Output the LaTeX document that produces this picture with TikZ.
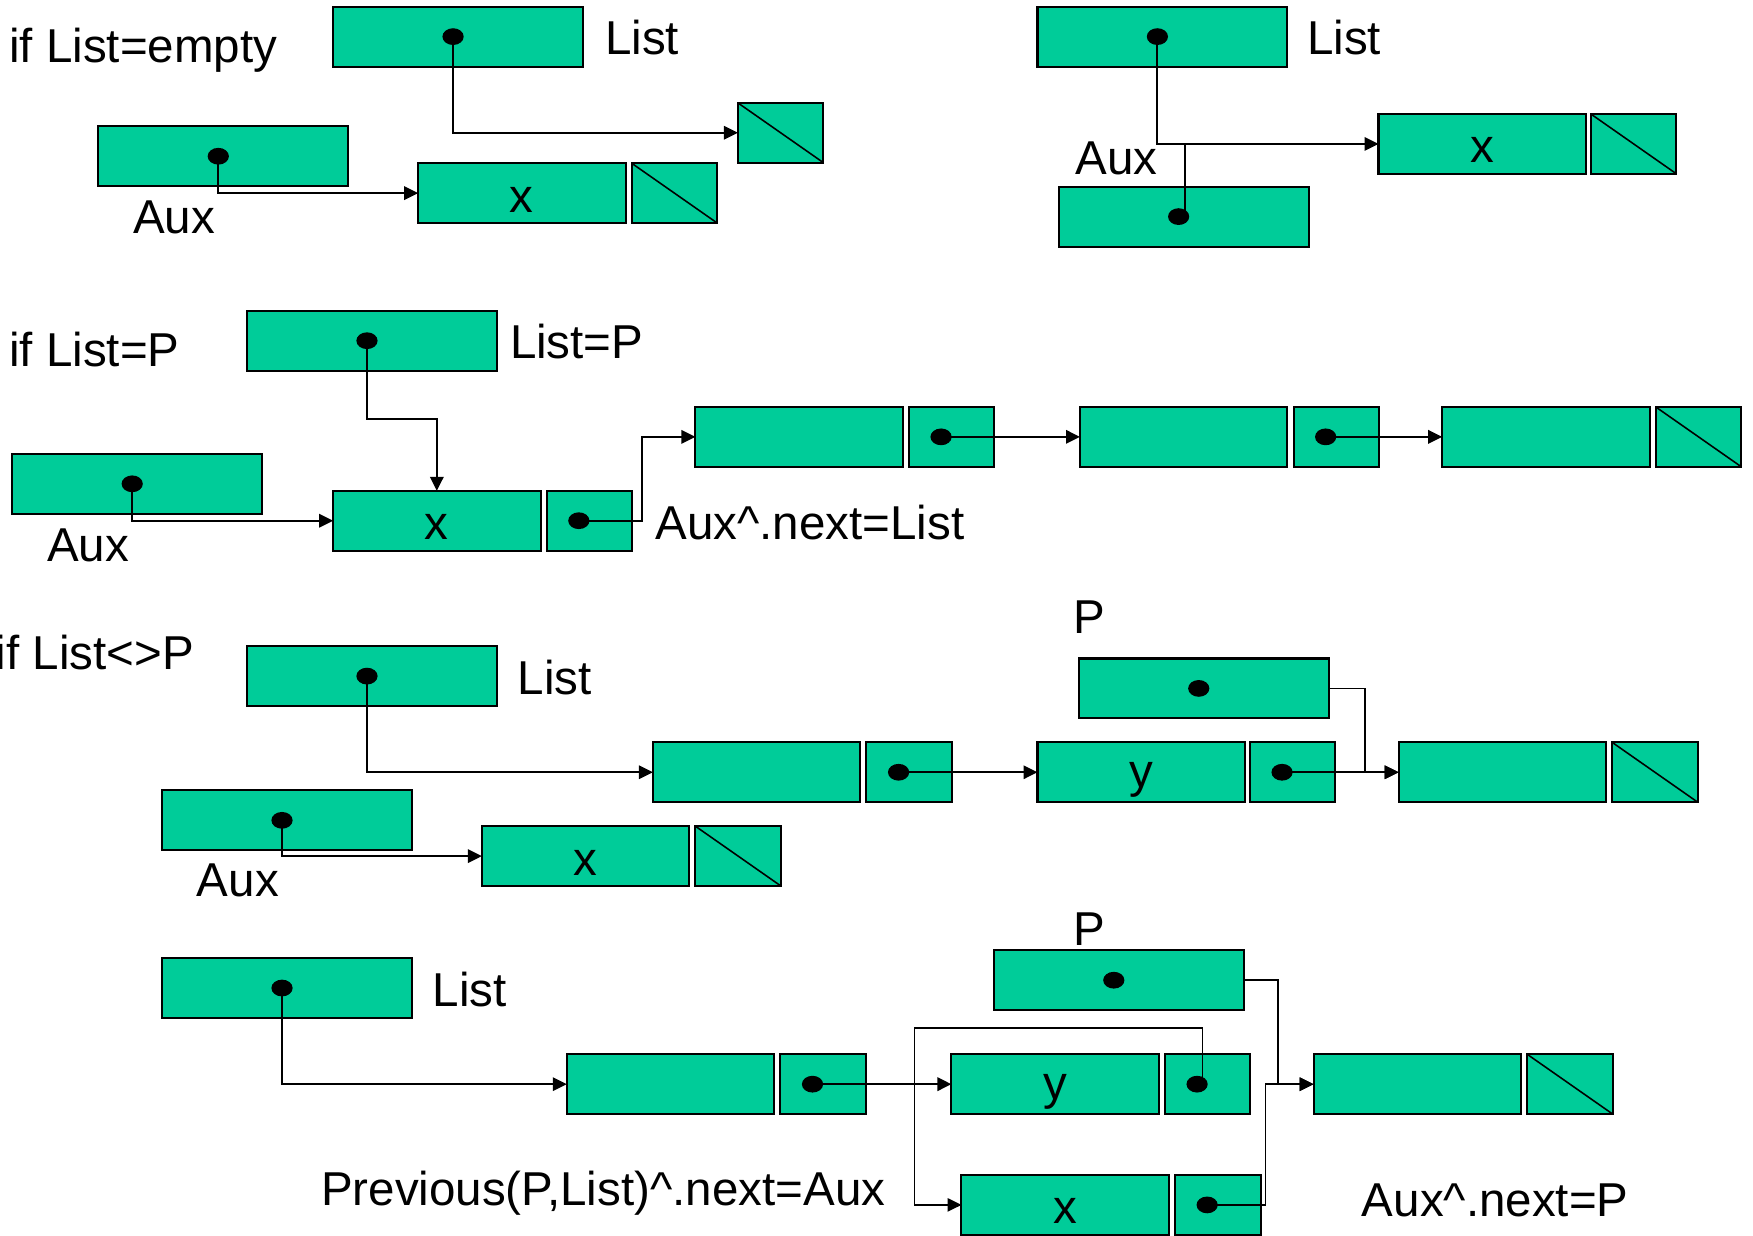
\documentclass[tikz,border=0pt]{standalone}
\usepackage{fontspec}
\setmainfont{Liberation Sans}
\usetikzlibrary{arrows.meta,shapes.geometric,calc}
\definecolor{cellfill}{RGB}{0,204,153}
\newcommand\lblfont{\fontsize{42.5}{50}\selectfont}

\begin{document}
\begin{tikzpicture}[x=1pt,y=-1pt,
  cell/.style={draw=black,fill=cellfill,line width=1.8pt,inner sep=0pt,outer sep=0pt,
    minimum height=53.5pt,anchor=north west},
  varbox/.style={cell,minimum width=223.5pt},
  databox/.style={cell,minimum width=185.5pt,font=\lblfont,text height=34pt,text depth=0pt},
  ydata/.style={databox,text height=28pt},
  ptrbox/.style={cell,minimum width=76.5pt},
  nilbox/.style={cell,minimum width=76.5pt,
    path picture={\draw[line width=1.4pt] (path picture bounding box.north west) -- (path picture bounding box.south east);}},
  ptrdot/.style={ellipse,fill=black,inner sep=0pt,minimum width=19pt,minimum height=15pt},
  link/.style={line width=1.8pt,-{Triangle[length=12.5pt,width=12pt]}},
  wire/.style={line width=1.8pt},
  thin link/.style={line width=1.4pt,-{Triangle[length=12.5pt,width=12pt]}},
  txt/.style={font=\lblfont,inner sep=0pt,anchor=base west},
]
\useasboundingbox (0,0) rectangle (1568,1105);

% ---------- case 1: empty list (before) ----------
\node[txt] (t1) at (8,56) {if List=empty};
\node[varbox] (L1) at (298,6) {};
\node[txt] (tL1) at (541,49) {List};
\node[nilbox] (N1) at (660,92) {};
\node[varbox] (A1) at (88,113) {};
\node[txt] (tA1) at (119,209) {Aux};
\node[databox] (X1) at (374,146) {x};
\node[nilbox] (X1n) at (565,146) {};
\node[ptrdot] (dL1) at ($(L1.center)+(-4.5,0)$) {};
\node[ptrdot] (dA1) at ($(A1.center)+(-4.5,0)$) {};
\draw[link] (dL1.center) |- (N1.west);
\draw[link] (dA1.center) |- (X1.west);

% ---------- case 1: empty list (after) ----------
\node[varbox] (L2) at (928,6) {};
\node[txt] (tL2) at (1169,49) {List};
\node[databox] (X2) at (1233,102) {x};
\node[nilbox] (X2n) at (1423,102) {};
\node[varbox] (A2) at (947,167) {};
\node[txt] (tA2) at (962,156.5) {Aux};
\node[ptrdot] (dL2) at ($(L2.center)+(-4.5,0)$) {};
\node[ptrdot] (dA2) at ($(A2.center)+(-4.5,0)$) {};
\draw[link] (dL2.center) |- (X2.west);
\draw[wire] ($(dA2.center)+(6,0)$) coordinate (a2up) -- (a2up |- X2.west);

% ---------- case 2: insert before the head ----------
\node[txt] (t2) at (8,328) {if List=P};
\node[varbox] (L3) at (221,278) {};
\node[txt] (tL3) at (456,321) {List=P};
\node[varbox] (A3) at (11,406) {};
\node[txt] (tA3) at (42,502) {Aux};
\node[databox] (X3) at (298,439) {x};
\node[ptrbox] (X3p) at (489,439) {};
\node[txt] (tN3) at (586,483) {Aux\textasciicircum.next=List};
\node[databox] (N31) at (622,364) {};
\node[ptrbox] (N31p) at (813,364) {};
\node[databox] (N32) at (966,364) {};
\node[ptrbox] (N32p) at (1157,364) {};
\node[databox] (N33) at (1290,364) {};
\node[nilbox] (N33n) at (1481,364) {};
\node[ptrdot] (dL3) at ($(L3.center)+(-4.5,0)$) {};
\node[ptrdot] (dA3) at ($(A3.center)+(-4.5,0)$) {};
\node[ptrdot] (dX3p) at ($(X3p.center)+(-9.5,0)$) {};
\node[ptrdot] (dN31p) at ($(N31p.center)+(-9.5,0)$) {};
\node[ptrdot] (dN32p) at ($(N32p.center)+(-9.5,0)$) {};
\draw[link] (dL3.center) -- ++(0,70) -| (X3.north);
\draw[link] (dA3.center) |- (X3.west);
\draw[link] (dX3p.center) -| ($(N31.west)+(-48,0)$) -- (N31.west);
\draw[link] (dN31p.center) -- (N32.west);
\draw[link] (dN32p.center) -- (N33.west);

% ---------- case 3: insert inside the list (before) ----------
\node[txt] (t3) at (-4,599) {if List<>P};
\node[varbox] (L4) at (221,578) {};
\node[txt] (tL4) at (463,621) {List};
\node[databox] (NA) at (584,664) {};
\node[ptrbox] (NAp) at (775,664) {};
\node[txt] (tP4) at (960,567) {P};
\node[varbox] (P4) at (965,589) {};
\node[ydata] (Y4) at (928,664) {y};
\node[ptrbox] (Y4p) at (1118,664) {};
\node[databox] (NC) at (1251,664) {};
\node[nilbox] (NCn) at (1442,664) {};
\node[varbox] (A4) at (145,707) {};
\node[txt] (tA4) at (176,802) {Aux};
\node[databox] (X4) at (431,739) {x};
\node[nilbox] (X4n) at (622,739) {};
\node[ptrdot] (dL4) at ($(L4.center)+(-4.5,0)$) {};
\node[ptrdot] (dP4) at ($(P4.center)+(-4.5,0)$) {};
\node[ptrdot] (dA4) at ($(A4.center)+(-4.5,0)$) {};
\node[ptrdot] (dNAp) at ($(NAp.center)+(-9.5,0)$) {};
\node[ptrdot] (dY4p) at ($(Y4p.center)+(-9.5,0)$) {};
\draw[link] (dL4.center) |- (NA.west);
\draw[link] (dNAp.center) -- (Y4.west);
\draw[thin link] (P4.east) -| ($(NC.west)+(-30,0)$) -- (NC.west);
\draw[link] (dY4p.center) -- (NC.west);
\draw[link] (dA4.center) |- (X4.west);

% ---------- case 3: insert inside the list (after) ----------
\node[varbox] (L5) at (145,857) {};
\node[txt] (tL5) at (387,900.6) {List};
\node[databox] (ND) at (507,943) {};
\node[ptrbox] (NDp) at (698,943) {};
\node[txt] (tP5) at (960,846) {P};
\node[varbox] (P5) at (889,850) {};
\node[ydata] (Y5) at (851,943) {y};
\node[ptrbox] (Y5p) at (1042,943) {};
\node[databox] (X5) at (860,1051) {x};
\node[ptrbox] (X5p) at (1051,1051) {};
\node[databox] (NF) at (1175,943) {};
\node[nilbox] (NFn) at (1366,943) {};
\node[txt] (tPrev) at (287,1078) {Previous(P,List)\textasciicircum.next=Aux};
\node[txt] (tAuxP) at (1218,1088) {Aux\textasciicircum.next=P};
\node[ptrdot] (dL5) at ($(L5.center)+(-4.5,0)$) {};
\node[ptrdot] (dP5) at ($(P5.center)+(-4.5,0)$) {};
\node[ptrdot] (dNDp) at ($(NDp.center)+(-9.5,0)$) {};
\node[ptrdot] (dY5p) at ($(Y5p.center)+(-9.5,0)$) {};
\node[ptrdot] (dX5p) at ($(X5p.center)+(-9.5,0)$) {};
\draw[link] (dL5.center) |- (ND.west);
\draw[link] (dNDp.center) -- (Y5.west);
\draw[thin link] ($(dY5p.center)+(5,0)$) -- ++(0,-50) -| ($(X5.west)+(-42,0)$) -- (X5.west);
\draw[thin link] (P5.east) -| ($(NF.west)+(-32,0)$) -- (NF.west);
\draw[thin link] (dX5p.center) -| ($(NF.west)+(-43,0)$) -- (NF.west);
\end{tikzpicture}
\end{document}
